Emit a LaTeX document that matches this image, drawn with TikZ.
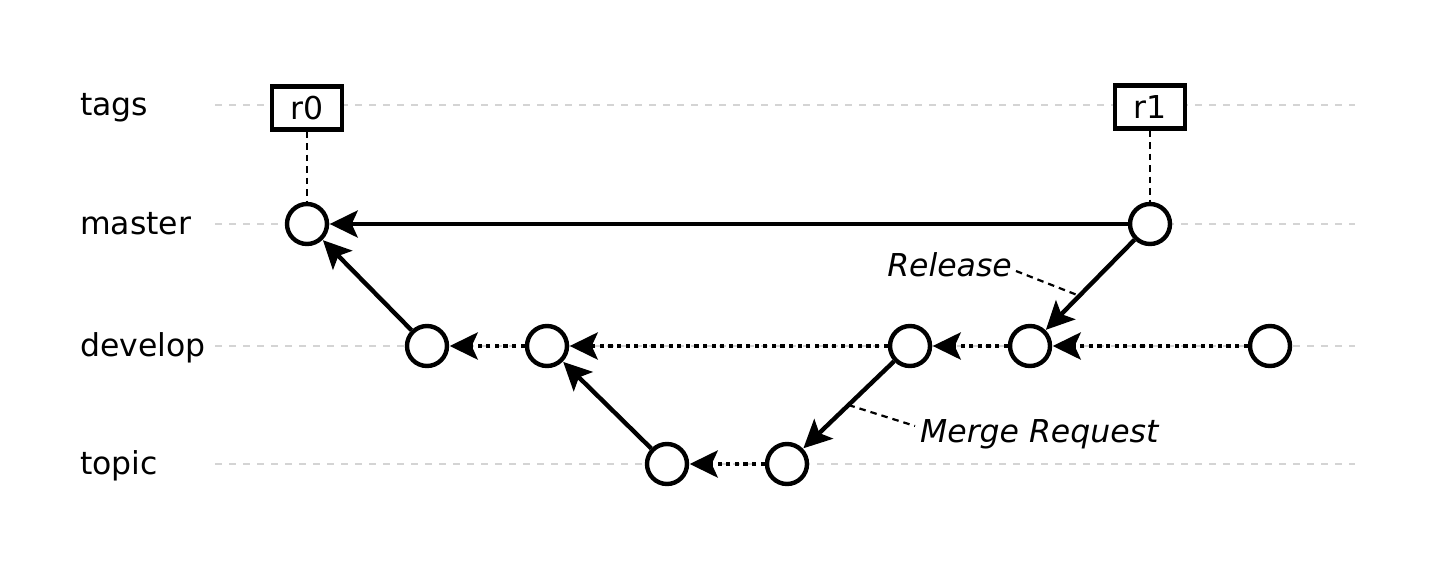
\documentclass[tikz,border=0pt]{standalone}
\usepackage{fontspec}
\setmainfont{DejaVu Sans}
\usetikzlibrary{arrows.meta}
\begin{document}
\begin{tikzpicture}[x=1pt,y=-1pt,
  every node/.style={font=\fontsize{31.5}{38}\selectfont},
  commit/.style={circle,draw,line width=4.4pt,fill=white,minimum size=40pt,inner sep=0pt},
  tagbox/.style={draw,line width=4.4pt,fill=white,minimum width=70pt,minimum height=43pt,inner sep=0pt},
  lane/.style={anchor=west,text height=0.75em,text depth=0.25em,inner sep=0pt},
  guide/.style={draw=black!17,line width=2pt,dash pattern=on 7pt off 7pt},
  main/.style={line width=4.4pt,shorten >=0.5pt,-{Stealth[length=28pt 0,width=27pt 0,inset=6pt 0]}},
  dots/.style={main,dash pattern=on 4.3pt off 4.3pt},
  tagline/.style={line width=2.8pt,dash pattern=on 6.5pt off 5pt},
  note/.style={font=\fontsize{31.5}{38}\selectfont\itshape,inner sep=0pt,text height=0.75em,text depth=0.25em},
  leader/.style={line width=2.2pt,dash pattern=on 6.5pt off 5pt}]
\useasboundingbox (0,0) rectangle (1442,570);

% lane labels
\node[lane] (Ltags) at (80,113) {tags};
\node[lane] (Lmaster) at (80,232) {master};
\node[lane] (Ldevelop) at (80,354) {develop};
\node[lane] (Ltopic) at (80,472) {topic};

% guide lines
\foreach \y/\n in {105/1,224/2,346/3,464/4}{
  \coordinate (gl\n) at (215,\y);
  \coordinate (gr\n) at (1355,\y);
  \draw[guide] (gl\n) -- (gr\n);
}

% commits
\node[commit] (m0) at (307,224) {};
\node[commit] (m1) at (1150,224) {};
\node[commit] (d0) at (427,346) {};
\node[commit] (d1) at (547,346) {};
\node[commit] (d2) at (910,346) {};
\node[commit] (d3) at (1030,346) {};
\node[commit] (d4) at (1270,346) {};
\node[commit] (t0) at (667,464) {};
\node[commit] (t1) at (787,464) {};

% tags
\node[tagbox] (r0) at (307,108) {r0};
\node[tagbox] (r1) at (1150,107) {r1};
\draw[tagline] (r0) -- (m0);
\draw[tagline] (r1) -- (m1);

% connectors
\draw[main] (m1) -- (m0);
\draw[main] (d0) -- (m0);
\draw[main] (m1) -- coordinate[pos=0.62] (relpt) (d3);
\draw[dots] (d4) -- (d3);
\draw[dots] (d3) -- (d2);
\draw[dots] (d2) -- (d1);
\draw[dots] (d1) -- (d0);
\draw[main] (d2) -- coordinate[pos=0.5] (mrpt) (t1);
\draw[dots] (t1) -- (t0);
\draw[main] (t0) -- (d1);

% notes
\node[note,anchor=east] (rel) at (1012,274) {Release};
\node[note,anchor=west] (mr) at (920,440) {Merge Request};
\draw[leader] ([xshift=4pt,yshift=3pt]rel.east) -- (relpt);
\draw[leader] (mrpt) -- ([xshift=-5pt,yshift=14pt]mr.west);
\end{tikzpicture}
\end{document}
